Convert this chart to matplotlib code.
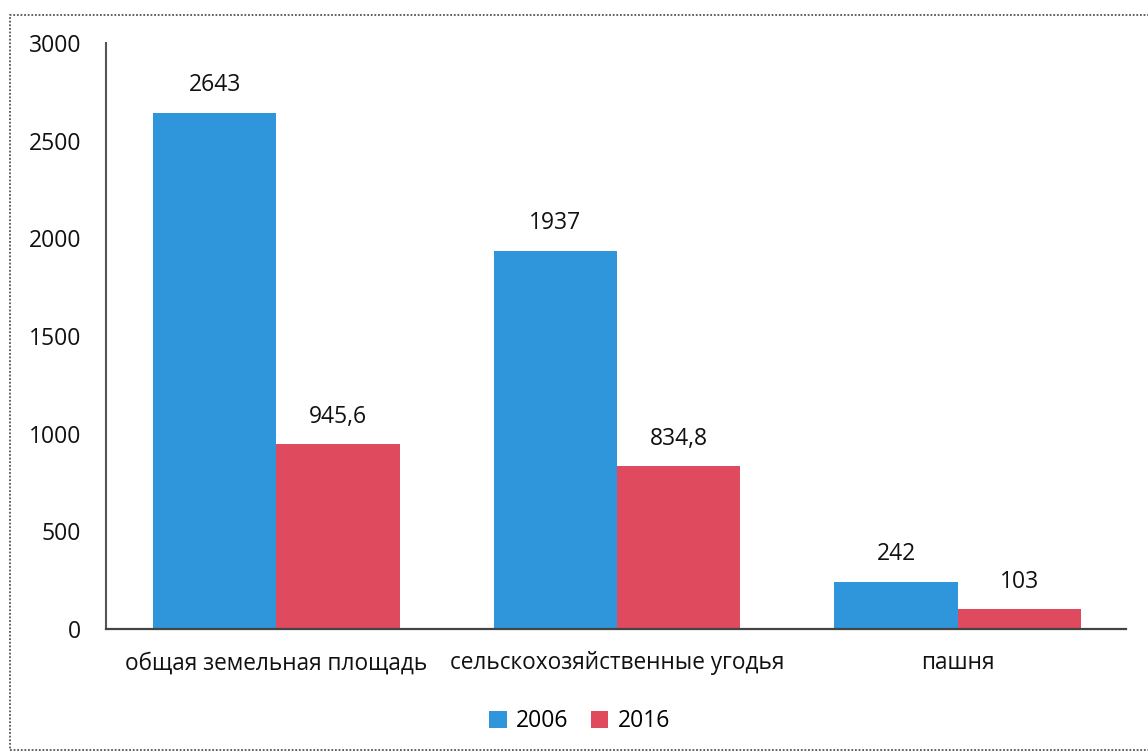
import numpy as np
import matplotlib.pyplot as plt
from matplotlib.patches import Rectangle

plt.rcParams['font.family'] = ['Open Sans', 'DejaVu Sans']

categories = ['общая земельная площадь', 'сельскохозяйственные угодья', 'пашня']
series_names = ['2006', '2016']
values_2006 = [2643, 1937, 242]
values_2016 = [945.6, 834.8, 103]
labels_2006 = ['2643', '1937', '242']
labels_2016 = ['945,6', '834,8', '103']
yticks = [0, 500, 1000, 1500, 2000, 2500, 3000]

blue = '#2f96db'
red = '#e04a5f'

fig = plt.figure(figsize=(11.48, 7.56), dpi=100)
ax = fig.add_axes([0.0923, 0.1680, 0.8903, 0.7751])

x = np.arange(len(categories))
w = 0.362
b1 = ax.bar(x - w / 2, values_2006, w, color=blue, label=series_names[0])
b2 = ax.bar(x + w / 2, values_2016, w, color=red, label=series_names[1])

for bars, labs in ((b1, labels_2006), (b2, labels_2016)):
    for rect, lab in zip(bars, labs):
        ax.annotate(lab, (rect.get_x() + rect.get_width() / 2, rect.get_height()),
                    xytext=(0, 11), textcoords='offset points',
                    ha='center', va='bottom', fontsize=16.5, color='#111111')

ax.set_xlim(-0.5, 2.5)
ax.set_ylim(0, 3000)
ax.set_yticks(yticks)
ax.set_yticklabels([str(t) for t in yticks], fontsize=16.5, color='#111111')
ax.set_xticks(x)
ax.set_xticklabels(categories, fontsize=16.3, color='#111111')
ax.tick_params(axis='both', length=0)
ax.tick_params(axis='y', pad=18)
ax.tick_params(axis='x', pad=16)

for s in ('top', 'right'):
    ax.spines[s].set_visible(False)
ax.spines['left'].set_color('#555555')
ax.spines['left'].set_linewidth(1.5)
ax.spines['bottom'].set_color('#444444')
ax.spines['bottom'].set_linestyle((0, (1, 1)))
ax.spines['bottom'].set_linewidth(1.6)

fig.legend(handles=[b1, b2], labels=series_names, loc='center',
           bbox_to_anchor=(0.505, 0.046), ncol=2, frameon=False,
           fontsize=16.5, handlelength=0.75, handleheight=0.75,
           handletextpad=0.4, columnspacing=1.0)

# dotted frame around the chart
fig.patches.append(Rectangle((0.0087, 0.008), 1.05, 0.972, transform=fig.transFigure,
                             fill=False, edgecolor='#555555', linewidth=1.3,
                             linestyle=(0, (1, 1))))

fig.savefig('out.png', dpi=100, facecolor='white')
